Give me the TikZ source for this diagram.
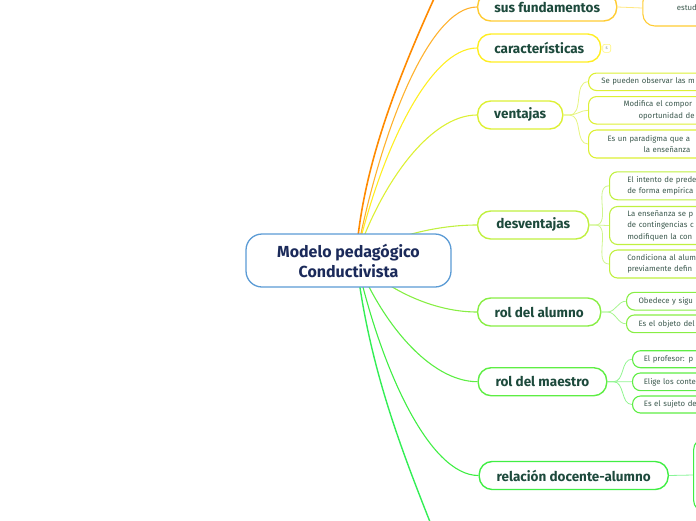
\documentclass[tikz,border=0pt]{standalone}
\usepackage{fontspec}
\setmainfont{Fira Sans}
\usetikzlibrary{backgrounds}
\definecolor{centralB}{HTML}{5B9BD5}
\definecolor{centralT}{HTML}{1B2A5A}
\definecolor{mainT}{HTML}{1D4A3C}
\definecolor{childT}{HTML}{3D5A4F}
\definecolor{orangeD}{HTML}{FF8A00}
\definecolor{orangeL}{HTML}{FFB22E}
\definecolor{susB}{HTML}{FFCC33}
\definecolor{carB}{HTML}{FFEE22}
\definecolor{venB}{HTML}{DDF035}
\definecolor{desB}{HTML}{C0F040}
\definecolor{aluB}{HTML}{88EE44}
\definecolor{maeB}{HTML}{5EEE44}
\definecolor{relB}{HTML}{40EE44}
\definecolor{botL}{HTML}{33EE55}
\definecolor{susS}{HTML}{FFE680}
\definecolor{venS}{HTML}{E6F580}
\definecolor{desS}{HTML}{D0F590}
\definecolor{aluS}{HTML}{A8F590}
\definecolor{maeS}{HTML}{90F590}
\definecolor{relS}{HTML}{88F598}
\begin{document}
\begin{tikzpicture}[x=1pt,y=-1pt,
  central/.style={draw=centralB, line width=1.3pt, fill=white, rounded corners=16pt,
    minimum width=205pt, minimum height=53pt, align=center, text=centralT,
    font=\bfseries\fontsize{16}{20}\selectfont, inner sep=0pt},
  mainbox/.style={draw, line width=1.4pt, fill=white, rounded corners=13pt,
    minimum height=28pt, anchor=west, text=mainT,
    font=\bfseries\fontsize{13.5}{15}\selectfont, inner sep=0pt},
  childbox/.style={draw, line width=1.1pt, fill=white, rounded corners=8pt,
    anchor=west, text=childT, align=left, text width=160pt, inner ysep=0pt,
    font=\fontsize{7.8}{11.5}\selectfont},
  branch/.style={line width=1.1pt},
  sub/.style={line width=0.8pt},
]
\useasboundingbox (0,0) rectangle (696,520);
\clip (0,0) rectangle (696,520);

% central
\node[central] (c) at (348.5,260.5) {Modelo pedagógico\\Conductivista};
\coordinate (o) at (356,258);
\coordinate (offtop) at (452,-40);
\coordinate (offbot) at (445,560);

% main topics
\node[mainbox, draw=susB, minimum width=139pt] (sus) at (477,7) {sus fundamentos};
\node[mainbox, draw=carB, minimum width=123pt] (car) at (477,48) {características};
\node[mainbox, draw=venB, minimum width=85pt] (ven) at (477,115) {ventajas};
\node[mainbox, draw=desB, minimum width=111pt] (des) at (477,225) {desventajas};
\node[mainbox, draw=aluB, minimum width=123pt] (alu) at (477,312) {rol del alumno};
\node[mainbox, draw=maeB, minimum width=128.5pt] (mae) at (477.5,381.7) {rol del maestro};
\node[mainbox, draw=relB, minimum width=189pt] (rel) at (478.5,475.5) {relación docente-alumno};

% small note
\node[draw=carB!60, line width=0.6pt, fill=white, rounded corners=2pt, minimum width=8pt,
  minimum height=8pt, inner sep=0pt, text=childT!70, font=\fontsize{4.5}{5}\selectfont]
  (s) at (606.7,48.3) {s};

% children
\node[childbox, draw=susB, rounded corners=12pt, minimum height=36pt, inner xsep=34pt] (sus1) at (642.3,8) {estud};
\node[childbox, draw=venB, minimum height=17.5pt, inner xsep=12.7pt] (v1) at (588,81.8) {Se pueden observar las m};
\node[childbox, draw=venB, minimum height=27.5pt, inner xsep=35pt] (v2) at (588,110.3) {Modifica el compor\\\hspace*{15pt}oportunidad de};
\node[childbox, draw=venB, minimum height=28pt, inner xsep=19pt] (v3) at (588,144) {Es un paradigma que a\\\hspace*{36pt}la enseñanza};
\node[childbox, draw=desB, minimum height=28pt, inner xsep=17.7pt] (d1) at (609,185.8) {El intento de prede\\de forma empírica};
\node[childbox, draw=desB, minimum height=38pt, inner xsep=17.7pt] (d2) at (609,225.5) {La enseñanza se p\\de contingencias c\\modifiquen la con};
\node[childbox, draw=desB, minimum height=28pt, inner xsep=17.7pt] (d3) at (609,264) {Condiciona al alum\\previamente defin};
\node[childbox, draw=aluB, minimum height=17.7pt, inner xsep=12pt] (a1) at (626,301.2) {Obedece y sigu};
\node[childbox, draw=aluB, minimum height=17.7pt, inner xsep=12pt] (a2) at (626,323.8) {Es el objeto del};
\node[childbox, draw=maeB, minimum height=17pt, inner xsep=11.3pt] (m1) at (632,359.2) {El profesor: p};
\node[childbox, draw=maeB, minimum height=17.7pt, inner xsep=11.3pt] (m2) at (632,381.8) {Elige los conte};
\node[childbox, draw=maeB, minimum height=17pt, inner xsep=11.3pt] (m3) at (632,404.5) {Es el sujeto de};
\node[childbox, draw=relB, rounded corners=12pt, minimum height=74pt, inner xsep=10pt] (rel1) at (693,475) {};

\begin{scope}[on background layer]
  % branches from the centre
  \draw[branch, orangeD, line width=1.6pt] (o) .. controls (362,170) and (395,80) .. (offtop);
  \draw[branch, orangeL] (o) .. controls (380,132) and (429,7) .. (sus.west);
  \draw[branch, carB] (o) .. controls (380,153) and (429,48) .. (car.west);
  \draw[branch, venB] (o) .. controls (380,186) and (429,115) .. (ven.west);
  \draw[branch, desB] (o) .. controls (380,241) and (429,225) .. (des.west);
  \draw[branch, aluB] (o) .. controls (380,285) and (429,312) .. (alu.west);
  \draw[branch, maeB] (o) .. controls (380,320) and (429,381.7) .. (mae.west);
  \draw[branch, relB] (o) .. controls (380,367) and (429,475.5) .. (rel.west);
  \draw[branch, botL, line width=1.4pt] (o) .. controls (370,380) and (410,470) .. (offbot);
  % sub connectors
  \draw[sub, susS] (sus.east) -- (sus1.west);
  \foreach \k in {v1,v2,v3} \draw[sub, venS] (ven.east) -- ++(6,0) to[out=0,in=180] (\k.west);
  \foreach \k in {d1,d2,d3} \draw[sub, desS] (des.east) -- ++(6,0) to[out=0,in=180] (\k.west);
  \foreach \k in {a1,a2} \draw[sub, aluS] (alu.east) -- ++(6,0) to[out=0,in=180] (\k.west);
  \foreach \k in {m1,m2,m3} \draw[sub, maeS] (mae.east) -- ++(6,0) to[out=0,in=180] (\k.west);
  \draw[sub, relS] (rel.east) -- (rel1.west);
\end{scope}
\end{tikzpicture}
\end{document}
